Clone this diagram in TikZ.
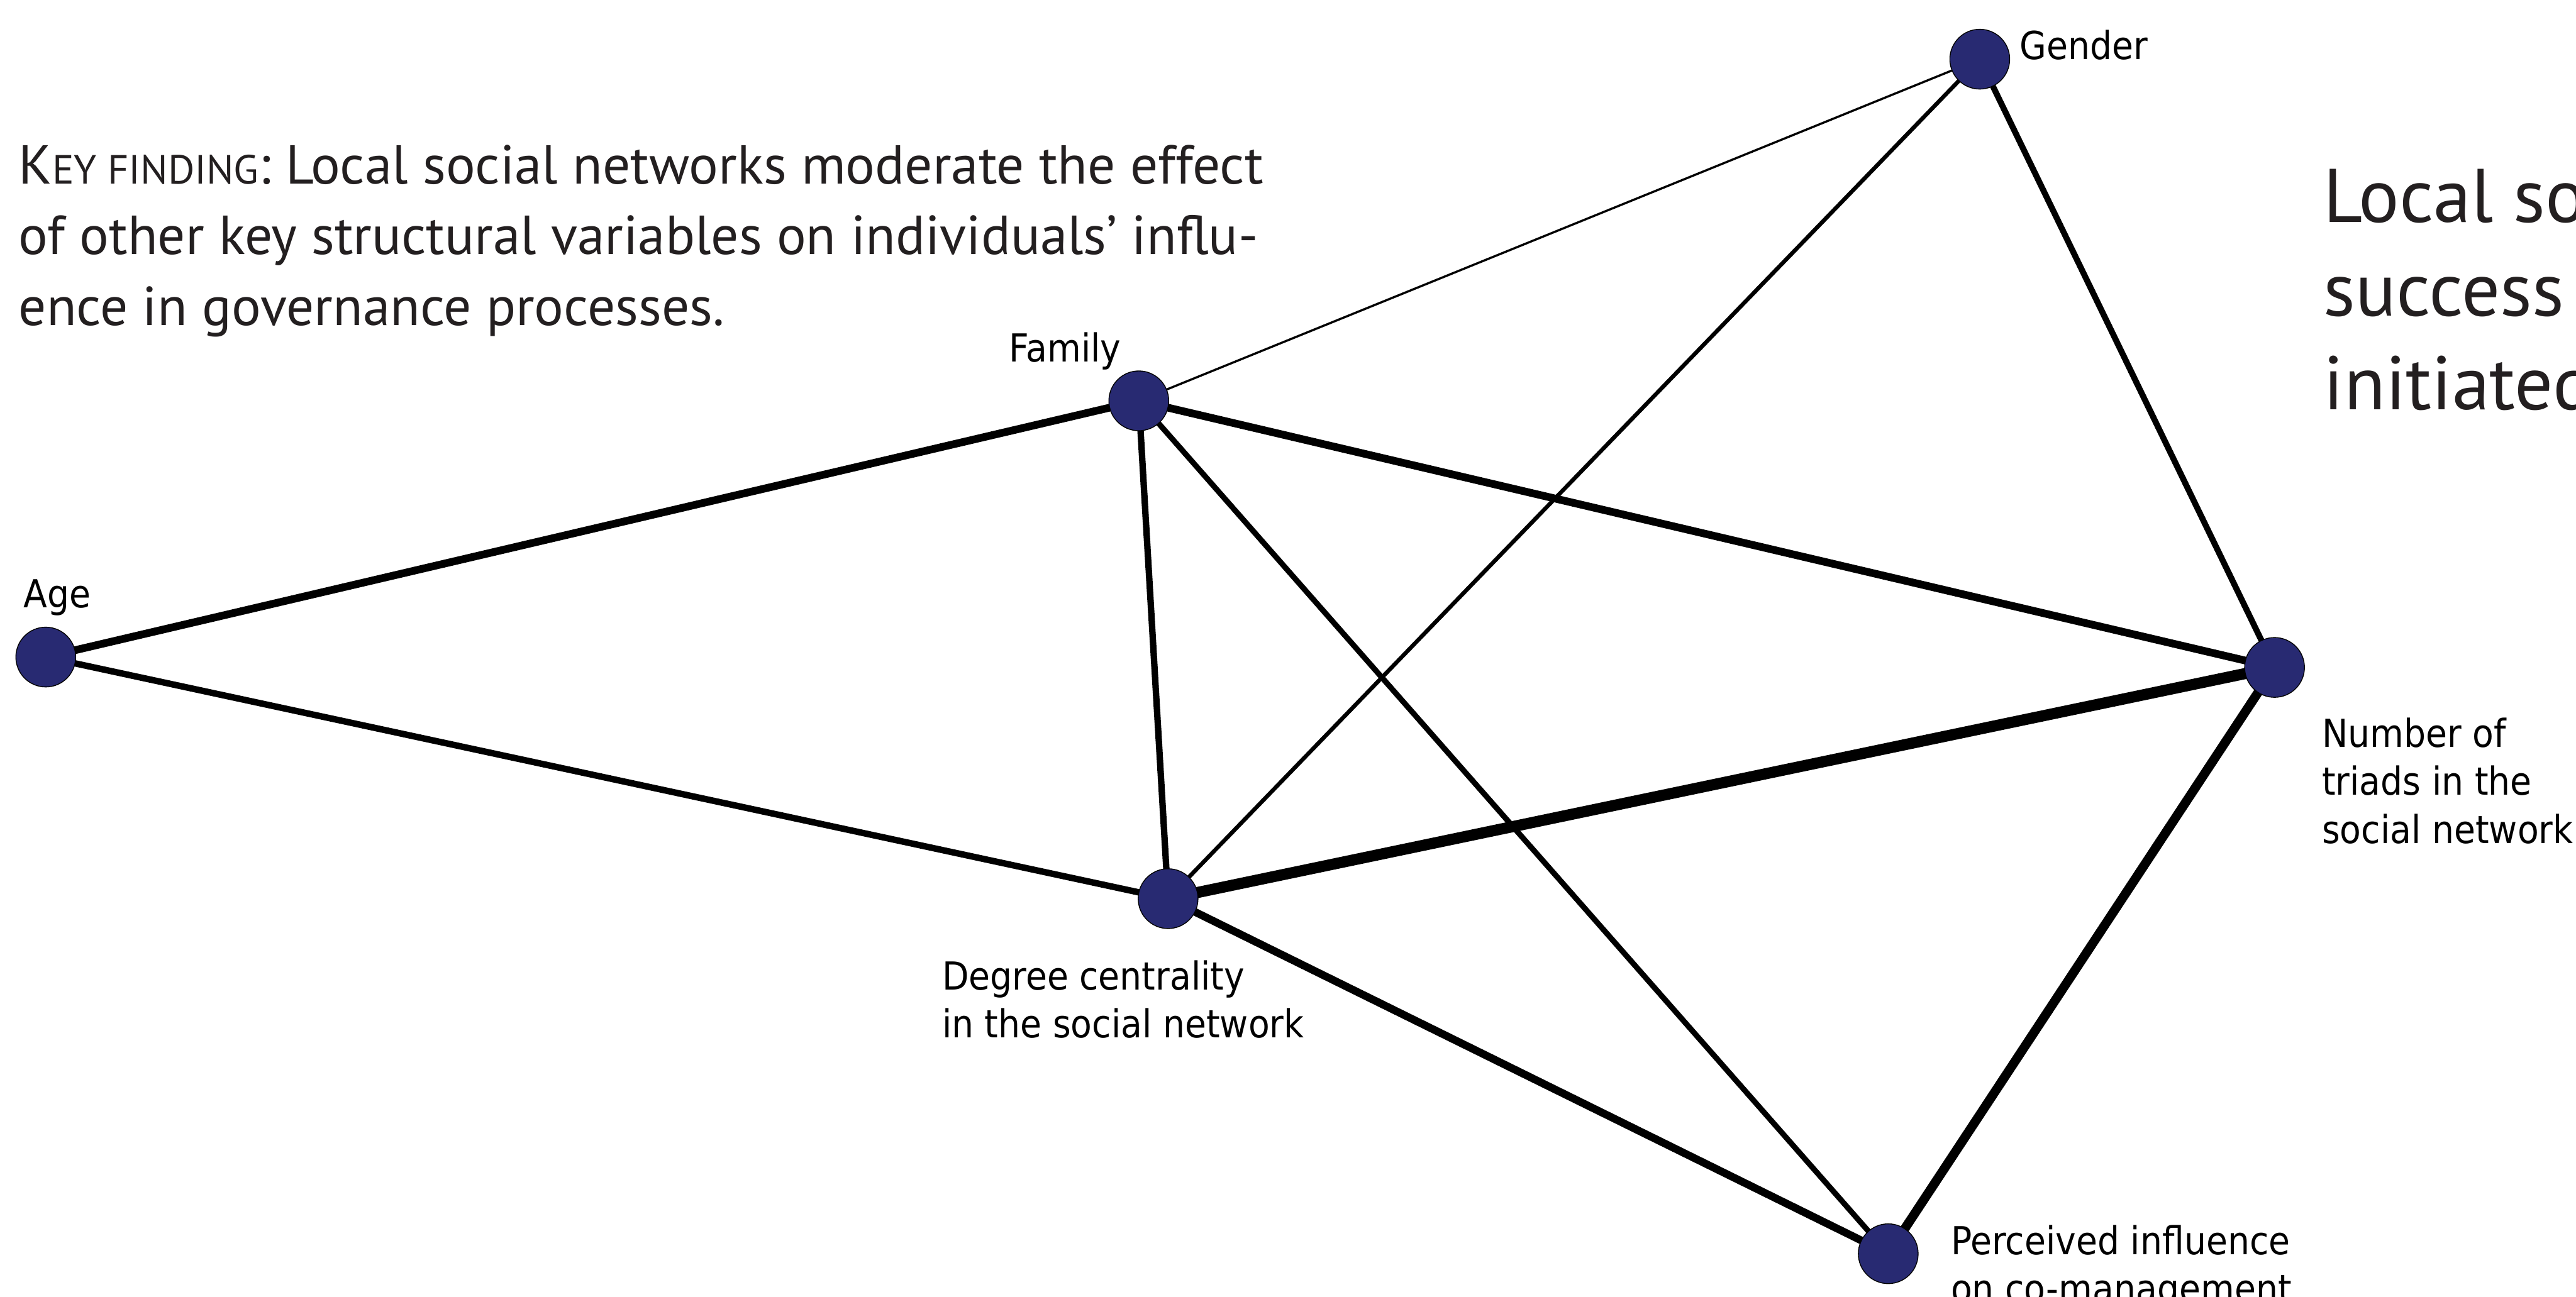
\documentclass[tikz,border=0pt]{standalone}
\usepackage{fontspec}
\setmainfont{PT Sans}
\newfontfamily\lblfont[FakeStretch=0.9]{DejaVu Sans}
\usetikzlibrary{backgrounds}
\definecolor{navy}{RGB}{40,42,114}
\definecolor{ink}{RGB}{35,31,32}
\tikzset{var/.style={circle,draw=black,line width=0.4pt,fill=navy,minimum size=0.98cm,inner sep=0pt},
  lbl/.style={font=\lblfont\fontsize{18}{22.4}\selectfont,align=left,inner sep=0pt,anchor=base west}}

\begin{document}
\begin{tikzpicture}
\useasboundingbox (0,0) rectangle (42.21,-21.25);

\node[var] (gender) at (32.44,-0.97) {};
\node[var] (family) at (18.66,-6.57) {};
\node[var] (age) at (0.75,-10.77) {};
\node[var] (degree) at (19.14,-14.73) {};
\node[var] (triads) at (37.27,-10.94) {};
\node[var] (perceived) at (30.94,-20.55) {};

\node[lbl] (genderlbl) at (33.09,-0.97) {Gender};
\node[lbl] (familylbl) at (16.53,-5.93) {Family};
\node[lbl] (agelbl) at (0.38,-9.96) {Age};
\node[lbl] (degreelbl) at (15.43,-17.01) {Degree centrality\\in the social network};
\node[lbl] (triadslbl) at (38.04,-13.82) {Number of\\triads in the\\social network};
\node[lbl] (perceivedlbl) at (31.96,-21.35) {Perceived influence\\on co-management};

\node[inner sep=0pt,anchor=base west,align=left,text=ink,font=\fontsize{25.6}{33}\selectfont] (finding) at (0.30,-5.33)
  {K{\fontsize{19}{33}\selectfont EY FINDING}: Local social networks moderate the effect\\
   of other key structural variables on individuals’ influ-\\
   ence in governance processes.};
\node[inner sep=0pt,anchor=base west,align=left,text=ink,font=\fontsize{35.4}{43.7}\selectfont] (title) at (38.07,-6.71)
  {Local social\\success\\initiated};

\begin{scope}[on background layer]
\draw[line width=1pt] (family.center) -- (gender.center);
\draw[line width=1.9pt] (degree.center) -- (gender.center);
\draw[line width=2.8pt] (gender.center) -- (triads.center);
\draw[line width=3.6pt] (age.center) -- (family.center);
\draw[line width=3pt] (family.center) -- (degree.center);
\draw[line width=3.6pt] (family.center) -- (triads.center);
\draw[line width=2.6pt] (family.center) -- (perceived.center);
\draw[line width=3pt] (age.center) -- (degree.center);
\draw[line width=5.2pt] (degree.center) -- (triads.center);
\draw[line width=3.6pt] (degree.center) -- (perceived.center);
\draw[line width=4.3pt] (triads.center) -- (perceived.center);
\end{scope}
\end{tikzpicture}
\end{document}
